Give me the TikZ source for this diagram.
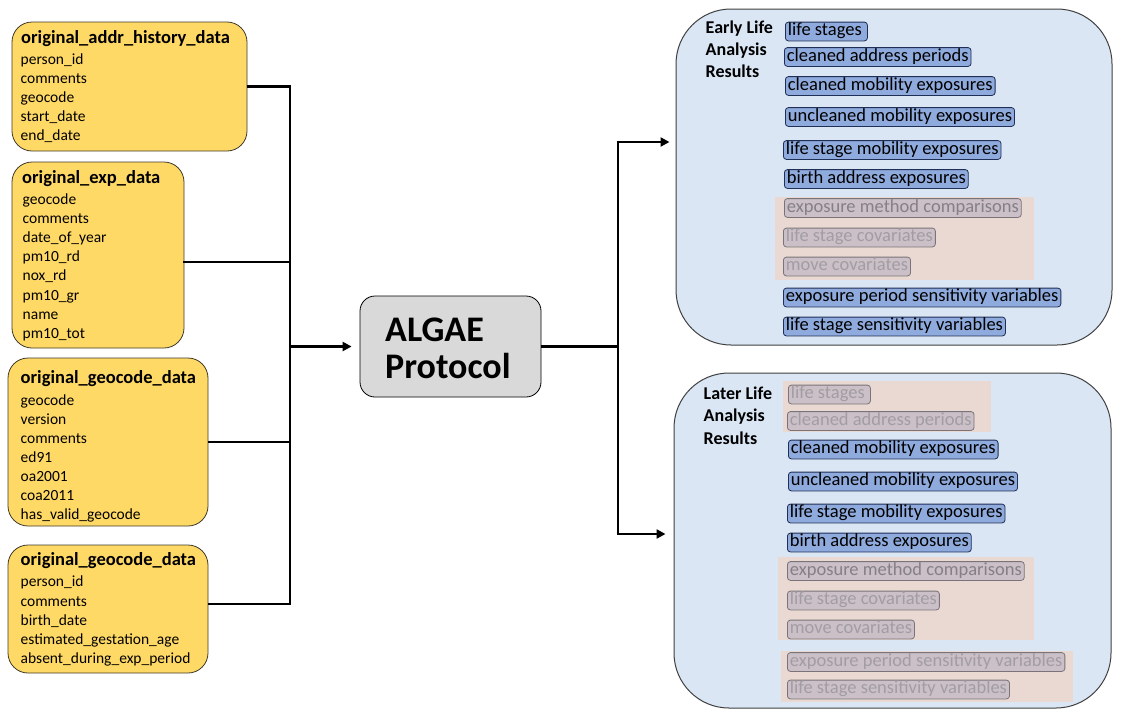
\documentclass[tikz,border=0pt]{standalone}
\usepackage{fontspec}
\setmainfont{Carlito}
\usetikzlibrary{arrows.meta,calc}

\definecolor{tblfill}{HTML}{FFD966}
\definecolor{tblline}{HTML}{3F3A2A}
\definecolor{algaefill}{HTML}{D9D9D9}
\definecolor{panelfill}{HTML}{DAE6F4}
\definecolor{panelline}{HTML}{404040}
\definecolor{itemfill}{HTML}{8FAADC}
\definecolor{itemline}{HTML}{1F2F55}
\definecolor{peach}{HTML}{E9D9D2}
\definecolor{offfill}{HTML}{CBC0C8}
\definecolor{offline}{HTML}{7A7478}
\definecolor{offtext}{HTML}{858085}
\definecolor{offtextlight}{HTML}{A29DA3}

\tikzset{
  tbl/.style={draw=tblline, fill=tblfill, rounded corners=20pt, line width=0.8pt, inner sep=0pt},
  ttl/.style={anchor=base west, inner sep=0pt, font=\fontsize{18.5}{22}\selectfont\bfseries},
  fld/.style={anchor=base west, inner sep=0pt, font=\fontsize{15.5}{19}\selectfont},
  link/.style={line width=2.6pt},
  arr/.style={link, -{Triangle[length=9pt,width=9pt]}},
  algaebox/.style={draw=black, fill=algaefill, rounded corners=15pt, line width=0.8pt, inner sep=0pt},
  bigtxt/.style={anchor=base west, inner sep=0pt, font=\fontsize{36}{40}\selectfont\bfseries},
  panel/.style={draw=panelline, fill=panelfill, rounded corners=55pt, line width=1pt, inner sep=0pt},
  head/.style={anchor=base west, inner sep=0pt, font=\fontsize{18}{22}\selectfont\bfseries},
  item/.style={anchor=west, draw=itemline, fill=itemfill, rounded corners=3pt, line width=0.8pt,
    inner xsep=2.5pt, inner ysep=0.6pt, text height=13pt, text depth=4.6pt,
    font=\fontsize{18.5}{20}\selectfont},
  off/.style={item, draw=offline, fill=offfill, text=offtextlight},
  offdark/.style={off, text=offtext},
}

\begin{document}
\begin{tikzpicture}[x=1pt, y=-1pt]
\useasboundingbox[fill=white] (0,0) rectangle (1123,715);

% ---------- source tables ----------
\node[tbl, minimum width=235pt, minimum height=129pt] (addr) at (129.5,86.5) {};
\node[ttl] (addr-t) at (21,43.3) {original\_addr\_history\_data};
\foreach \f [count=\i] in {person\_id, comments, geocode, start\_date, end\_date}
  \node[fld] (addr-\i) at (20.5,{64.3+19.1*(\i-1)}) {\f};

\node[tbl, minimum width=172pt, minimum height=186pt] (exp) at (98,255) {};
\node[ttl] (exp-t) at (22,183.3) {original\_exp\_data};
\foreach \f [count=\i] in {geocode, comments, date\_of\_year, pm10\_rd, nox\_rd, pm10\_gr, name, pm10\_tot}
  \node[fld] (exp-\i) at (22.5,{204.3+19.15*(\i-1)}) {\f};

\node[tbl, minimum width=200pt, minimum height=168pt] (geo) at (108,442) {};
\node[ttl] (geo-t) at (20.5,383.3) {original\_geocode\_data};
\foreach \f [count=\i] in {geocode, version, comments, ed91, oa2001, coa2011, has\_valid\_geocode}
  \node[fld] (geo-\i) at (20.5,{405+19.15*(\i-1)}) {\f};

\node[tbl, minimum width=200pt, minimum height=128pt] (birth) at (108,609) {};
\node[ttl] (birth-t) at (20.5,565) {original\_geocode\_data};
\foreach \f [count=\i] in {person\_id, comments, birth\_date, estimated\_gestation\_age, absent\_during\_exp\_period}
  \node[fld] (birth-\i) at (20.5,{586.7+19.3*(\i-1)}) {\f};

% ---------- protocol ----------
\node[algaebox, minimum width=181pt, minimum height=101pt] (algae) at (450.5,346.5) {};
\node[bigtxt] (algae-1) at (385,341.7) {ALGAE};
\node[bigtxt] (algae-2) at (385,378) {Protocol};

% ---------- input bus ----------
\coordinate (busX) at (290,0);
\coordinate (busTop) at (addr.east -| busX);
\coordinate (busBot) at ([yshift=5pt]birth.east -| busX);
\draw[link] (addr.east) -- (busTop) -- (busBot) -- ([yshift=5pt]birth.east);
\draw[link] ([yshift=-7pt,xshift=-1pt]exp.east) -- ([yshift=-7pt]exp.east -| busX);
\draw[link] (geo.east) -- (geo.east -| busX);
\draw[arr, shorten >=8pt] (algae.west -| busX) -- (algae.west);

% ---------- result panels ----------
\node[panel, minimum width=436pt, minimum height=336pt] (early) at (894,177) {};
\node[panel, minimum width=437pt, minimum height=335pt] (later) at (892.5,540.5) {};

\fill[peach] (775,197) rectangle (1034,280);
\fill[peach] (783,381) rectangle (991,432);
\fill[peach] (778,557) rectangle (1034,640);
\fill[peach] (781,651) rectangle (1073,702);

% ---------- output bus ----------
\coordinate (splitX) at (618,0);
\coordinate (splitTop) at (618,142);
\coordinate (splitBot) at (618,534);
\draw[link] (algae.east) -- (algae.east -| splitX);
\draw[link] ([yshift=1.3pt]splitTop) -- ([yshift=-1.3pt]splitBot);
\draw[arr, shorten >=6pt] ([xshift=-1.3pt]splitTop) -- (splitTop -| early.west);
\draw[arr, shorten >=8pt] ([xshift=-1.3pt]splitBot) -- (splitBot -| later.west);

% ---------- early life results ----------
\node[head] (early-h1) at (705.5,33.3) {Early Life};
\node[head] (early-h2) at (705.5,55.7) {Analysis};
\node[head] (early-h3) at (705.5,77.6) {Results};

\node[item] (e1) at (785,31.5) {life stages\,};
\node[item] (e2) at (784,57) {cleaned address periods};
\node[item] (e3) at (785,86) {cleaned mobility exposures};
\node[item] (e4) at (785,117) {uncleaned mobility exposures};
\node[item] (e5) at (783,150) {life stage mobility exposures};
\node[item] (e6) at (784,179) {birth address exposures};
\node[offdark] (e7) at (784,208) {exposure method comparisons};
\node[off] (e8) at (783,237.5) {life stage covariates};
\node[off] (e9) at (783,266.5) {move covariates};
\node[item] (e10) at (783,297.5) {exposure period sensitivity variables};
\node[item] (e11) at (783,326.5) {life stage sensitivity variables};

% ---------- later life results ----------
\node[head] (later-h1) at (703.5,399.3) {Later Life};
\node[head] (later-h2) at (703.5,421.7) {Analysis};
\node[head] (later-h3) at (703.5,444) {Results};

\node[off] (l1) at (788,394.5) {life stages\,};
\node[off] (l2) at (787,421) {cleaned address periods};
\node[item] (l3) at (788,449.5) {cleaned mobility exposures};
\node[item] (l4) at (788,481.5) {uncleaned mobility exposures};
\node[item] (l5) at (787,513.5) {life stage mobility exposures};
\node[item] (l6) at (787,542.5) {birth address exposures};
\node[offdark] (l7) at (787,571) {exposure method comparisons};
\node[off] (l8) at (787,600.5) {life stage covariates};
\node[off] (l9) at (787,629.5) {move covariates};
\node[off] (l10) at (787,662) {exposure period sensitivity variables};
\node[off] (l11) at (787,689.5) {life stage sensitivity variables};
\end{tikzpicture}
\end{document}
